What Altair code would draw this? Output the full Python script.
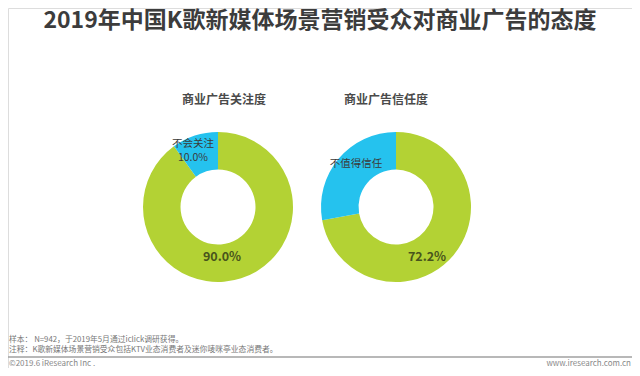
import altair as alt
import pandas as pd

# ---- data ----
chart_title = "2019年中国K歌新媒体场景营销受众对商业广告的态度"
panels = ["商业广告关注度", "商业广告信任度"]
categories_attn = ["会关注", "不会关注"]
values_attn = [90.0, 10.0]
categories_trust = ["值得信任", "不值得信任"]
values_trust = [72.2, 27.8]
footnotes = ["样本： N=942，于2019年5月通过iclick调研获得。",
             "注释：K歌新媒体场景营销受众包括KTV业态消费者及迷你唛咪亭业态消费者。"]
copyright_text = "©2019.6  iResearch Inc ."
site_text = "www.iresearch.com.cn"

GREEN = "#b3d234"
BLUE = "#25c2ee"
FONT = "Noto Sans CJK SC"

rows = []
for i, (c, v) in enumerate(zip(categories_attn, values_attn)):
    rows.append({"panel": panels[0], "cat": c, "value": v, "ord": i, "kind": "main" if i == 0 else "minor"})
for i, (c, v) in enumerate(zip(categories_trust, values_trust)):
    rows.append({"panel": panels[1], "cat": c, "value": v, "ord": i, "kind": "main" if i == 0 else "minor"})
df = pd.DataFrame(rows)

OX, OY = 8, 8  # page margin offset


def px(x):
    return x - OX


def py(y):
    return y - OY


color = alt.Color("kind:N", scale=alt.Scale(domain=["main", "minor"], range=[GREEN, BLUE]), legend=None)

layers = []
centers = [(218, 207), (396, 207)]
for p, (cx, cy) in zip(panels, centers):
    arc = alt.Chart(df).transform_filter(alt.datum.panel == p).mark_arc(
        outerRadius=75, innerRadius=37.5, strokeWidth=0
    ).encode(
        theta=alt.Theta("value:Q", stack=True, scale=alt.Scale(domain=[0, 100])),
        order=alt.Order("ord:Q"),
        color=color,
        x=alt.value(px(cx)),
        y=alt.value(py(cy)),
    )
    layers.append(arc)


def text_layer(text, x, y, size, bold=False, col="#404040", align="center"):
    data = pd.DataFrame({"t": [text]})
    return alt.Chart(data).mark_text(
        font=FONT, fontSize=size, fontWeight="bold" if bold else "normal", color=col,
        align=align, baseline="middle"
    ).encode(text=alt.Text("t:N"), x=alt.value(px(x)), y=alt.value(py(y)))


# title
layers.append(text_layer(chart_title, 320, 21, 23, bold=True, col="#3c3c3c"))
# panel titles
layers.append(text_layer(panels[0], 224, 100, 12, bold=True, col="#4a4a4a"))
layers.append(text_layer(panels[1], 386, 100, 12, bold=True, col="#4a4a4a"))

# slice labels
layers.append(text_layer(categories_attn[1], 193, 144, 10.5, col="#3a3a3a"))
layers.append(text_layer(f"{values_attn[1]:.1f}%", 193, 158, 10.5, col="#3a3a3a"))
layers.append(text_layer(f"{values_attn[0]:.1f}%", 222, 257, 12.5, bold=True, col="#48541c"))
layers.append(text_layer(categories_trust[1], 356, 164, 10.5, col="#3a3a3a"))
layers.append(text_layer(f"{values_trust[0]:.1f}%", 427, 257, 12.5, bold=True, col="#48541c"))

# footnotes
layers.append(text_layer(footnotes[0], 9, 340, 7.8, col="#777777", align="left"))
layers.append(text_layer(footnotes[1], 9, 349.5, 7.8, col="#777777", align="left"))
layers.append(alt.Chart(pd.DataFrame({"t": ["line"]})).mark_rule(color="#a0a0a0", strokeWidth=1.5).encode(
    x=alt.value(px(8)), x2=alt.value(px(632)), y=alt.value(py(357))))
layers.append(text_layer(copyright_text, 9, 363.5, 8, col="#888888", align="left"))
layers.append(text_layer(site_text, 631, 363.5, 8, col="#888888", align="right"))

chart = alt.layer(*layers).properties(
    width=624, height=360, padding=0, autosize=alt.AutoSizeParams(type="none")
).configure_view(stroke=None).configure(background="white")

chart.save("out.html", embed_options={"renderer": "svg", "actions": False})
